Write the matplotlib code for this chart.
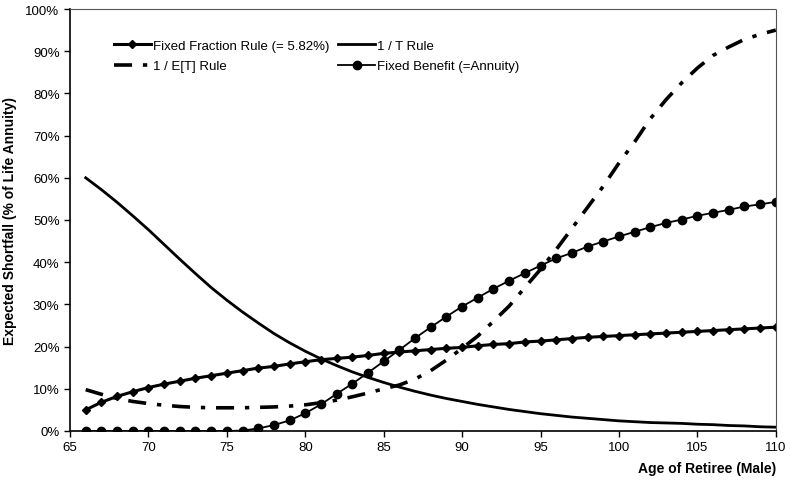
import matplotlib
matplotlib.use('Agg')
import matplotlib.pyplot as plt
import numpy as np
from matplotlib.ticker import PercentFormatter

plt.rcParams['font.family'] = ['Liberation Sans', 'DejaVu Sans']

ages = np.arange(66, 111)

fixed_fraction = [5.0, 6.8, 8.2, 9.3, 10.3, 11.1, 11.8, 12.5, 13.1, 13.7,
                  14.3, 14.9, 15.3, 15.9, 16.4, 16.9, 17.2, 17.5, 17.9, 18.4,
                  18.7, 19.0, 19.3, 19.6, 19.8, 20.2, 20.5, 20.7, 21.1, 21.3,
                  21.6, 21.9, 22.2, 22.4, 22.6, 22.8, 23.0, 23.2, 23.4, 23.6,
                  23.8, 24.0, 24.2, 24.4, 24.6]

one_over_t = [60.0, 57.2, 54.2, 51.0, 47.7, 44.2, 40.7, 37.3, 34.0, 31.0,
              28.2, 25.6, 23.1, 20.9, 18.9, 17.1, 15.5, 14.0, 12.7, 11.5,
              10.4, 9.4, 8.5, 7.7, 7.0, 6.3, 5.7, 5.1, 4.6, 4.1,
              3.7, 3.3, 3.0, 2.7, 2.4, 2.2, 2.0, 1.9, 1.8, 1.6,
              1.5, 1.3, 1.2, 1.0, 0.9]

one_over_et = [9.8, 8.7, 7.7, 7.0, 6.5, 6.1, 5.8, 5.6, 5.5, 5.5,
               5.5, 5.6, 5.7, 5.9, 6.2, 6.7, 7.3, 8.1, 9.0, 10.0,
               10.9, 12.3, 14.3, 16.8, 19.6, 22.5, 26.0, 29.6, 34.0, 38.3,
               43.0, 48.0, 53.0, 58.0, 63.5, 68.5, 74.0, 78.5, 82.5, 86.0,
               89.0, 91.0, 92.8, 94.0, 95.0]

fixed_benefit = [0.0, 0.0, 0.0, 0.0, 0.0, 0.0, 0.0, 0.0, 0.0, 0.0,
                 0.1, 0.6, 1.4, 2.5, 4.2, 6.3, 8.8, 11.2, 13.8, 16.5,
                 19.2, 22.0, 24.6, 27.1, 29.5, 31.6, 33.7, 35.6, 37.4, 39.2,
                 40.9, 42.2, 43.7, 44.9, 46.1, 47.2, 48.3, 49.3, 50.1, 51.0,
                 51.7, 52.4, 53.2, 53.7, 54.3]

fig = plt.figure(figsize=(7.9, 4.81), dpi=100)
ax = fig.add_axes([0.0886, 0.1019, 0.8934, 0.8773])

l_ff, = ax.plot(ages, fixed_fraction, color='black', lw=2.2, marker='D',
                markersize=4.5, label='Fixed Fraction Rule (= 5.82%)')
l_t, = ax.plot(ages, one_over_t, color='black', lw=2.0, label='1 / T Rule')
l_et, = ax.plot(ages, one_over_et, color='black', lw=2.6,
                dashes=(5, 3, 1.2, 3), label='1 / E[T] Rule')
l_fb, = ax.plot(ages, fixed_benefit, color='black', lw=1.3, marker='o',
                markersize=6, label='Fixed Benefit (=Annuity)')

ax.set_xlim(65, 110)
ax.set_ylim(0, 100)
ax.set_xticks(np.arange(65, 111, 5))
ax.set_yticks(np.arange(0, 101, 10))
ax.yaxis.set_major_formatter(PercentFormatter(decimals=0))
ax.tick_params(direction='out', length=4, width=1, labelsize=9.5, colors='black')

for side in ['top', 'right']:
    ax.spines[side].set_linestyle((0, (1, 1)))
    ax.spines[side].set_color('#555555')
    ax.spines[side].set_linewidth(0.8)
for side in ['left', 'bottom']:
    ax.spines[side].set_color('black')
    ax.spines[side].set_linewidth(1.2)

ax.set_ylabel('Expected Shortfall (% of Life Annuity)', fontsize=10,
              fontweight='bold', labelpad=6)
ax.set_xlabel('Age of Retiree (Male)', fontsize=10, fontweight='bold')
ax.xaxis.set_label_coords(1.0, -0.07)
ax.xaxis.label.set_horizontalalignment('right')

ax.legend([l_ff, l_et, l_t, l_fb],
          [l_ff.get_label(), l_et.get_label(), l_t.get_label(), l_fb.get_label()],
          ncol=2, frameon=False, fontsize=9.5, loc='upper left',
          bbox_to_anchor=(0.045, 0.955), handlelength=2.8, handletextpad=0.15,
          columnspacing=0.7, labelspacing=0.6)

fig.savefig('out.png', dpi=100)
